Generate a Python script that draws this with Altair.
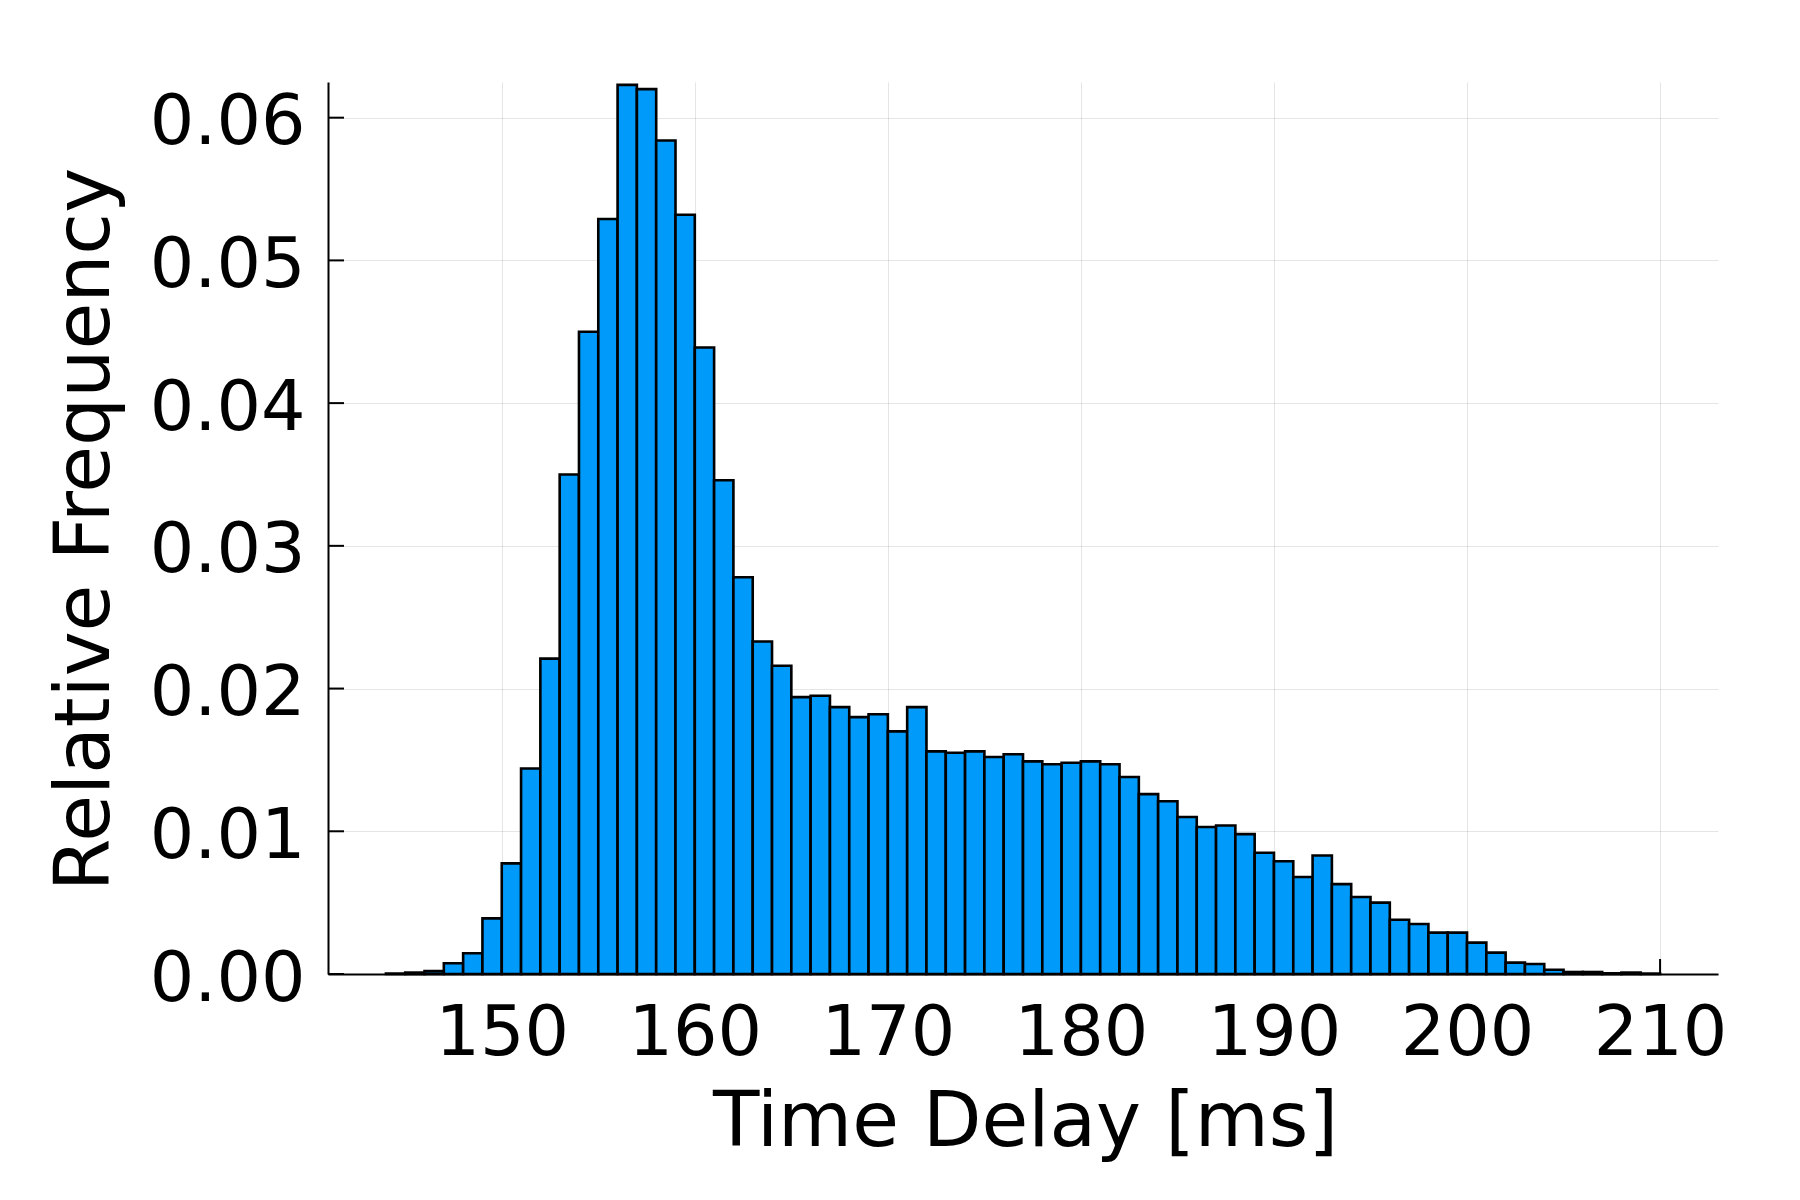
import altair as alt
import pandas as pd

# Histogram bins (1 ms wide), left edges in ms
bin_start = list(range(144, 210))
rel_freq = [
    0.00003, 0.0001, 0.0002, 0.00075, 0.00145, 0.0039,            # 144-149
    0.00775, 0.0144, 0.0221, 0.0350, 0.0450, 0.0529, 0.0623,       # 150-156
    0.0620, 0.0584, 0.0532, 0.0439, 0.0346, 0.0278, 0.0233,        # 157-163
    0.0216, 0.0194, 0.0195, 0.0187, 0.0180, 0.0182, 0.0170,        # 164-170
    0.0187, 0.0156, 0.0155, 0.0156, 0.0152, 0.0154, 0.0149,        # 171-177
    0.0147, 0.0148, 0.0149, 0.0147, 0.0138, 0.0126, 0.0121,        # 178-184
    0.0110, 0.0103, 0.0104, 0.0098, 0.0085, 0.0079, 0.0068,        # 185-191
    0.0083, 0.0063, 0.0054, 0.0050, 0.0038, 0.0035, 0.0029,        # 192-198
    0.0029, 0.0022, 0.0015, 0.0008, 0.0007, 0.0003, 0.00014,       # 199-205
    0.00014, 0.00005, 0.0001, 0.00003,                             # 206-209
]
bin_width = 1

x_ticks = [150, 160, 170, 180, 190, 200, 210]
y_ticks = [0.00, 0.01, 0.02, 0.03, 0.04, 0.05, 0.06]

x_domain = [141, 213]
y_domain = [0, 0.0625]

W, H = 1390, 892
FONT = "DejaVu Sans"

df = pd.DataFrame({"start": bin_start, "freq": rel_freq})
df["end"] = df["start"] + bin_width
xt = pd.DataFrame({"v": x_ticks})
yt = pd.DataFrame({"v": y_ticks})

xscale = alt.Scale(domain=x_domain, nice=False, zero=False)
yscale = alt.Scale(domain=y_domain, nice=False, zero=False)

x_axis = alt.Axis(
    values=x_ticks, format="d", title="Time Delay [ms]",
    ticks=False, tickSize=0, labelPadding=80, labelBaseline="alphabetic",
    labelFontSize=70, labelFont=FONT, labelColor="black", labelFlush=False,
    labelOverlap=False,
    titleFontSize=76, titleFont=FONT, titleFontWeight="normal", titleColor="black",
    titleBaseline="alphabetic", titleY=171, titleX=697, titleAlign="center",
    domainColor="black", domainWidth=2,
    grid=True, gridColor="black", gridOpacity=0.1, gridWidth=1,
)
y_axis = alt.Axis(
    values=y_ticks, format=".2f", title="Relative Frequency",
    ticks=False, tickSize=0, labelPadding=23, labelBaseline="middle", labelOffset=5,
    labelFontSize=70, labelFont=FONT, labelColor="black", labelFlush=False,
    labelOverlap=False,
    titleFontSize=76, titleFont=FONT, titleFontWeight="normal", titleColor="black",
    titleAngle=-90, titleBaseline="alphabetic", titleAlign="center",
    titleX=-220, titleY=447,
    domainColor="black", domainWidth=2,
    grid=True, gridColor="black", gridOpacity=0.1, gridWidth=1,
)

ytick_rules = alt.Chart(yt).mark_rule(color="black", strokeWidth=2).encode(
    y=alt.Y("v:Q", scale=yscale, axis=y_axis),
    x=alt.value(0), x2=alt.value(16),
)
xtick_rules = alt.Chart(xt).mark_rule(color="black", strokeWidth=2).encode(
    x=alt.X("v:Q", scale=xscale, axis=x_axis),
    y=alt.value(H), y2=alt.value(H - 15),
)

bars = alt.Chart(df).mark_rect(
    fill="#009AFA", stroke="black", strokeWidth=2.6
).encode(
    x=alt.X("start:Q", scale=xscale, axis=x_axis),
    x2="end:Q",
    y=alt.Y("freq:Q", scale=yscale, axis=y_axis),
    y2=alt.datum(0),
)

chart = alt.layer(ytick_rules, xtick_rules, bars).properties(
    width=W, height=H,
    autosize=alt.AutoSizeParams(type="none"),
    padding={"left": 320, "top": 74, "right": 70, "bottom": 210},
    background="white",
).configure_view(stroke=None)

chart.save("out.html", embed_options={"renderer": "svg", "actions": False})
